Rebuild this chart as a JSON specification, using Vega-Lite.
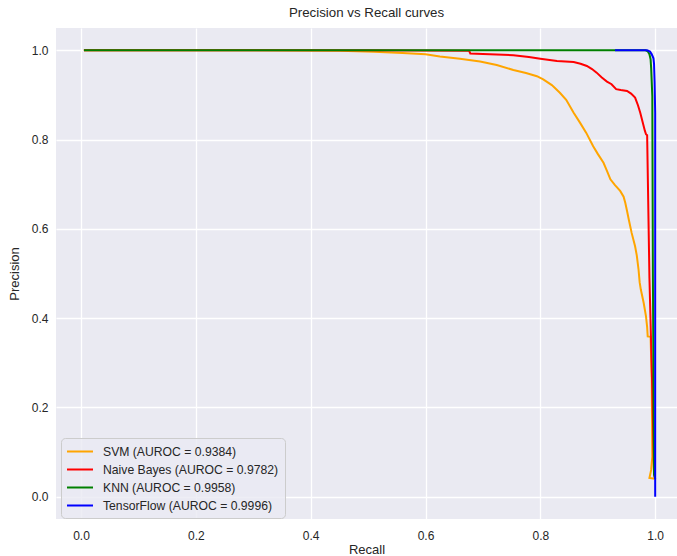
{
  "$schema": "https://vega.github.io/schema/vega-lite/v6.json",
  "autosize": {"type": "none"},
  "padding": {"left": 56, "top": 28, "right": 0, "bottom": 37},
  "width": 621,
  "height": 491,
  "title": {"text": "Precision vs Recall curves", "fontSize": 13.3, "fontWeight": "normal", "font": "Liberation Sans", "color": "#262626", "offset": 9},
  "config": {
    "view": {"fill": "#EAEAF2", "stroke": null},
    "axis": {"domain": false, "ticks": false, "gridColor": "#FFFFFF", "gridWidth": 1.3, "labelFont": "Liberation Sans", "labelFontSize": 12, "labelColor": "#262626", "titleFont": "Liberation Sans", "titleFontSize": 13, "titleFontWeight": "normal", "titleColor": "#262626"},
    "legend": {"labelFont": "Liberation Sans", "labelFontSize": 12.2, "labelColor": "#262626", "labelLimit": 0}
  },
  "data": {"values": [
    {"model": "SVM (AUROC = 0.9384)", "i": 0, "recall": 0.005, "precision": 1.0},
    {"model": "SVM (AUROC = 0.9384)", "i": 1, "recall": 0.30, "precision": 1.0},
    {"model": "SVM (AUROC = 0.9384)", "i": 2, "recall": 0.45, "precision": 0.999},
    {"model": "SVM (AUROC = 0.9384)", "i": 3, "recall": 0.51, "precision": 0.997},
    {"model": "SVM (AUROC = 0.9384)", "i": 4, "recall": 0.56, "precision": 0.994},
    {"model": "SVM (AUROC = 0.9384)", "i": 5, "recall": 0.60, "precision": 0.991},
    {"model": "SVM (AUROC = 0.9384)", "i": 6, "recall": 0.625, "precision": 0.986},
    {"model": "SVM (AUROC = 0.9384)", "i": 7, "recall": 0.66, "precision": 0.981},
    {"model": "SVM (AUROC = 0.9384)", "i": 8, "recall": 0.695, "precision": 0.975},
    {"model": "SVM (AUROC = 0.9384)", "i": 9, "recall": 0.724, "precision": 0.967},
    {"model": "SVM (AUROC = 0.9384)", "i": 10, "recall": 0.753, "precision": 0.956},
    {"model": "SVM (AUROC = 0.9384)", "i": 11, "recall": 0.775, "precision": 0.949},
    {"model": "SVM (AUROC = 0.9384)", "i": 12, "recall": 0.794, "precision": 0.942},
    {"model": "SVM (AUROC = 0.9384)", "i": 13, "recall": 0.805, "precision": 0.935},
    {"model": "SVM (AUROC = 0.9384)", "i": 14, "recall": 0.82, "precision": 0.922},
    {"model": "SVM (AUROC = 0.9384)", "i": 15, "recall": 0.834, "precision": 0.905},
    {"model": "SVM (AUROC = 0.9384)", "i": 16, "recall": 0.845, "precision": 0.889},
    {"model": "SVM (AUROC = 0.9384)", "i": 17, "recall": 0.858, "precision": 0.860},
    {"model": "SVM (AUROC = 0.9384)", "i": 18, "recall": 0.869, "precision": 0.838},
    {"model": "SVM (AUROC = 0.9384)", "i": 19, "recall": 0.880, "precision": 0.815},
    {"model": "SVM (AUROC = 0.9384)", "i": 20, "recall": 0.892, "precision": 0.785},
    {"model": "SVM (AUROC = 0.9384)", "i": 21, "recall": 0.900, "precision": 0.768},
    {"model": "SVM (AUROC = 0.9384)", "i": 22, "recall": 0.910, "precision": 0.748},
    {"model": "SVM (AUROC = 0.9384)", "i": 23, "recall": 0.916, "precision": 0.730},
    {"model": "SVM (AUROC = 0.9384)", "i": 24, "recall": 0.922, "precision": 0.711},
    {"model": "SVM (AUROC = 0.9384)", "i": 25, "recall": 0.930, "precision": 0.698},
    {"model": "SVM (AUROC = 0.9384)", "i": 26, "recall": 0.939, "precision": 0.685},
    {"model": "SVM (AUROC = 0.9384)", "i": 27, "recall": 0.945, "precision": 0.672},
    {"model": "SVM (AUROC = 0.9384)", "i": 28, "recall": 0.948, "precision": 0.658},
    {"model": "SVM (AUROC = 0.9384)", "i": 29, "recall": 0.951, "precision": 0.640},
    {"model": "SVM (AUROC = 0.9384)", "i": 30, "recall": 0.954, "precision": 0.621},
    {"model": "SVM (AUROC = 0.9384)", "i": 31, "recall": 0.959, "precision": 0.591},
    {"model": "SVM (AUROC = 0.9384)", "i": 32, "recall": 0.965, "precision": 0.561},
    {"model": "SVM (AUROC = 0.9384)", "i": 33, "recall": 0.968, "precision": 0.540},
    {"model": "SVM (AUROC = 0.9384)", "i": 34, "recall": 0.971, "precision": 0.509},
    {"model": "SVM (AUROC = 0.9384)", "i": 35, "recall": 0.973, "precision": 0.480},
    {"model": "SVM (AUROC = 0.9384)", "i": 36, "recall": 0.975, "precision": 0.464},
    {"model": "SVM (AUROC = 0.9384)", "i": 37, "recall": 0.980, "precision": 0.434},
    {"model": "SVM (AUROC = 0.9384)", "i": 38, "recall": 0.984, "precision": 0.404},
    {"model": "SVM (AUROC = 0.9384)", "i": 39, "recall": 0.986, "precision": 0.380},
    {"model": "SVM (AUROC = 0.9384)", "i": 40, "recall": 0.987, "precision": 0.359},
    {"model": "SVM (AUROC = 0.9384)", "i": 41, "recall": 0.992, "precision": 0.358},
    {"model": "SVM (AUROC = 0.9384)", "i": 42, "recall": 0.994, "precision": 0.262},
    {"model": "SVM (AUROC = 0.9384)", "i": 43, "recall": 0.995, "precision": 0.09},
    {"model": "SVM (AUROC = 0.9384)", "i": 44, "recall": 0.993, "precision": 0.06},
    {"model": "SVM (AUROC = 0.9384)", "i": 45, "recall": 0.990, "precision": 0.042},
    {"model": "SVM (AUROC = 0.9384)", "i": 46, "recall": 0.999, "precision": 0.040},
    {"model": "Naive Bayes (AUROC = 0.9782)", "i": 0, "recall": 0.005, "precision": 1.0},
    {"model": "Naive Bayes (AUROC = 0.9782)", "i": 1, "recall": 0.50, "precision": 1.0},
    {"model": "Naive Bayes (AUROC = 0.9782)", "i": 2, "recall": 0.676, "precision": 0.999},
    {"model": "Naive Bayes (AUROC = 0.9782)", "i": 3, "recall": 0.678, "precision": 0.993},
    {"model": "Naive Bayes (AUROC = 0.9782)", "i": 4, "recall": 0.70, "precision": 0.992},
    {"model": "Naive Bayes (AUROC = 0.9782)", "i": 5, "recall": 0.753, "precision": 0.989},
    {"model": "Naive Bayes (AUROC = 0.9782)", "i": 6, "recall": 0.78, "precision": 0.985},
    {"model": "Naive Bayes (AUROC = 0.9782)", "i": 7, "recall": 0.800, "precision": 0.981},
    {"model": "Naive Bayes (AUROC = 0.9782)", "i": 8, "recall": 0.829, "precision": 0.976},
    {"model": "Naive Bayes (AUROC = 0.9782)", "i": 9, "recall": 0.858, "precision": 0.974},
    {"model": "Naive Bayes (AUROC = 0.9782)", "i": 10, "recall": 0.870, "precision": 0.970},
    {"model": "Naive Bayes (AUROC = 0.9782)", "i": 11, "recall": 0.881, "precision": 0.965},
    {"model": "Naive Bayes (AUROC = 0.9782)", "i": 12, "recall": 0.890, "precision": 0.958},
    {"model": "Naive Bayes (AUROC = 0.9782)", "i": 13, "recall": 0.898, "precision": 0.950},
    {"model": "Naive Bayes (AUROC = 0.9782)", "i": 14, "recall": 0.907, "precision": 0.939},
    {"model": "Naive Bayes (AUROC = 0.9782)", "i": 15, "recall": 0.916, "precision": 0.930},
    {"model": "Naive Bayes (AUROC = 0.9782)", "i": 16, "recall": 0.924, "precision": 0.924},
    {"model": "Naive Bayes (AUROC = 0.9782)", "i": 17, "recall": 0.932, "precision": 0.913},
    {"model": "Naive Bayes (AUROC = 0.9782)", "i": 18, "recall": 0.940, "precision": 0.911},
    {"model": "Naive Bayes (AUROC = 0.9782)", "i": 19, "recall": 0.951, "precision": 0.909},
    {"model": "Naive Bayes (AUROC = 0.9782)", "i": 20, "recall": 0.958, "precision": 0.903},
    {"model": "Naive Bayes (AUROC = 0.9782)", "i": 21, "recall": 0.965, "precision": 0.894},
    {"model": "Naive Bayes (AUROC = 0.9782)", "i": 22, "recall": 0.970, "precision": 0.877},
    {"model": "Naive Bayes (AUROC = 0.9782)", "i": 23, "recall": 0.974, "precision": 0.860},
    {"model": "Naive Bayes (AUROC = 0.9782)", "i": 24, "recall": 0.978, "precision": 0.840},
    {"model": "Naive Bayes (AUROC = 0.9782)", "i": 25, "recall": 0.982, "precision": 0.820},
    {"model": "Naive Bayes (AUROC = 0.9782)", "i": 26, "recall": 0.984, "precision": 0.812},
    {"model": "Naive Bayes (AUROC = 0.9782)", "i": 27, "recall": 0.986, "precision": 0.810},
    {"model": "Naive Bayes (AUROC = 0.9782)", "i": 28, "recall": 0.990, "precision": 0.49},
    {"model": "Naive Bayes (AUROC = 0.9782)", "i": 29, "recall": 0.995, "precision": 0.24},
    {"model": "Naive Bayes (AUROC = 0.9782)", "i": 30, "recall": 0.998, "precision": 0.05},
    {"model": "Naive Bayes (AUROC = 0.9782)", "i": 31, "recall": 1.0, "precision": 0.04},
    {"model": "KNN (AUROC = 0.9958)", "i": 0, "recall": 0.005, "precision": 1.0},
    {"model": "KNN (AUROC = 0.9958)", "i": 1, "recall": 0.983, "precision": 1.0},
    {"model": "KNN (AUROC = 0.9958)", "i": 2, "recall": 0.987, "precision": 0.998},
    {"model": "KNN (AUROC = 0.9958)", "i": 3, "recall": 0.990, "precision": 0.991},
    {"model": "KNN (AUROC = 0.9958)", "i": 4, "recall": 0.992, "precision": 0.980},
    {"model": "KNN (AUROC = 0.9958)", "i": 5, "recall": 0.993, "precision": 0.960},
    {"model": "KNN (AUROC = 0.9958)", "i": 6, "recall": 0.995, "precision": 0.898},
    {"model": "KNN (AUROC = 0.9958)", "i": 7, "recall": 0.996, "precision": 0.5},
    {"model": "KNN (AUROC = 0.9958)", "i": 8, "recall": 0.998, "precision": 0.05},
    {"model": "KNN (AUROC = 0.9958)", "i": 9, "recall": 1.0, "precision": 0.04},
    {"model": "TensorFlow (AUROC = 0.9996)", "i": 0, "recall": 0.93, "precision": 1.0},
    {"model": "TensorFlow (AUROC = 0.9996)", "i": 1, "recall": 0.986, "precision": 1.0},
    {"model": "TensorFlow (AUROC = 0.9996)", "i": 2, "recall": 0.991, "precision": 0.997},
    {"model": "TensorFlow (AUROC = 0.9996)", "i": 3, "recall": 0.994, "precision": 0.991},
    {"model": "TensorFlow (AUROC = 0.9996)", "i": 4, "recall": 0.997, "precision": 0.982},
    {"model": "TensorFlow (AUROC = 0.9996)", "i": 5, "recall": 0.998, "precision": 0.970},
    {"model": "TensorFlow (AUROC = 0.9996)", "i": 6, "recall": 0.999, "precision": 0.93},
    {"model": "TensorFlow (AUROC = 0.9996)", "i": 7, "recall": 1.0, "precision": 0.86},
    {"model": "TensorFlow (AUROC = 0.9996)", "i": 8, "recall": 1.0, "precision": 0.0}
  ]},
  "mark": {"type": "line", "strokeWidth": 2, "clip": true},
  "encoding": {
    "x": {"field": "recall", "type": "quantitative", "title": "Recall", "scale": {"domain": [-0.0436, 1.038], "nice": false, "zero": false}, "axis": {"values": [0, 0.2, 0.4, 0.6, 0.8, 1.0], "format": ".1f", "labelPadding": 11, "titlePadding": 2, "labelFlush": false}},
    "y": {"field": "precision", "type": "quantitative", "title": "Precision", "scale": {"domain": [-0.05, 1.05], "nice": false, "zero": false}, "axis": {"values": [0, 0.2, 0.4, 0.6, 0.8, 1.0], "format": ".1f", "labelPadding": 8, "titlePadding": 10, "labelFlush": false}},
    "color": {"field": "model", "type": "nominal", "sort": ["SVM (AUROC = 0.9384)", "Naive Bayes (AUROC = 0.9782)", "KNN (AUROC = 0.9958)", "TensorFlow (AUROC = 0.9996)"],
      "scale": {"domain": ["SVM (AUROC = 0.9384)", "Naive Bayes (AUROC = 0.9782)", "KNN (AUROC = 0.9958)", "TensorFlow (AUROC = 0.9996)"], "range": ["#FFA500", "#FF0000", "#008000", "#0000FF"]},
      "legend": {"title": null, "orient": "none", "legendX": 5, "legendY": 410, "symbolType": "M-1.15,0H2.85", "symbolSize": 169, "symbolStrokeWidth": 2, "labelOffset": 21, "rowPadding": 4, "padding": 6, "fillColor": "rgba(234,234,242,0.8)", "strokeColor": "#CCCCCC", "cornerRadius": 4}},
    "order": {"field": "i", "type": "quantitative"}
  }
}
